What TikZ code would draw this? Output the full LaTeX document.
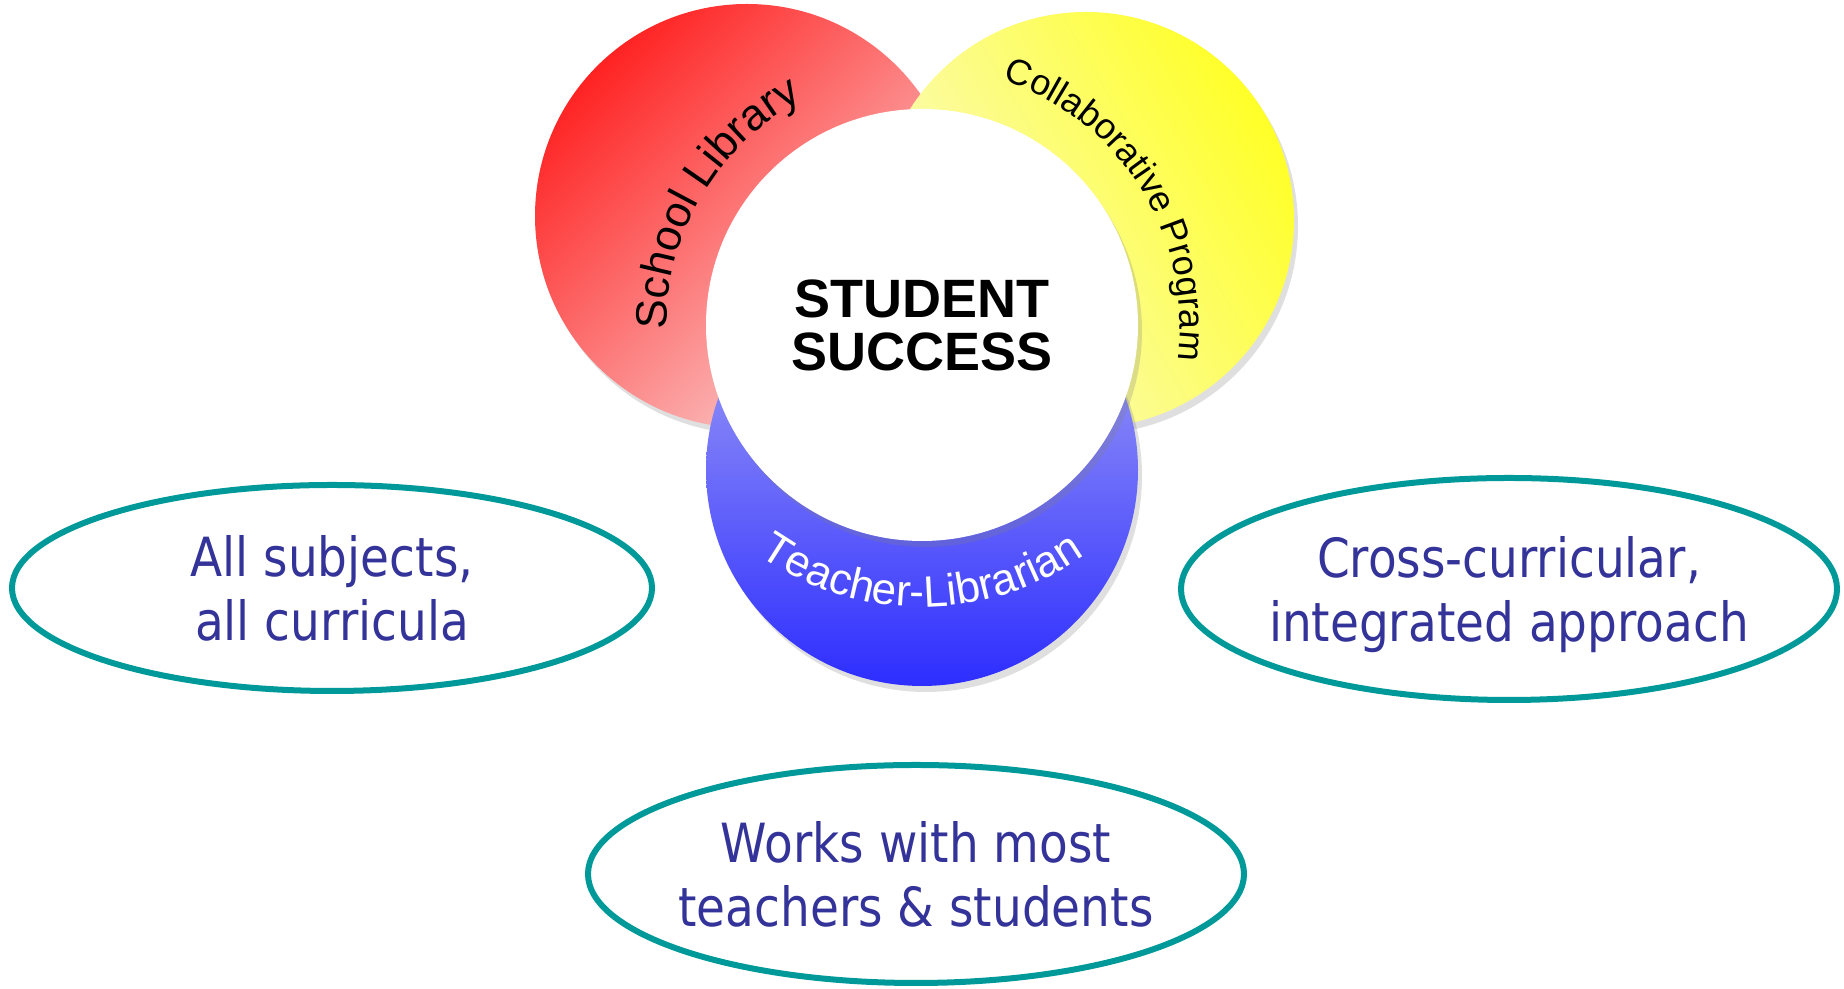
\documentclass[tikz,border=0pt]{standalone}
\usepackage{fontspec}
\setmainfont{Liberation Sans}
\newfontfamily\ovalfont[FakeStretch=0.87]{DejaVu Sans}
\usepackage{tikz}
\usetikzlibrary{shapes.geometric}
\usetikzlibrary{shadows}
\usetikzlibrary{decorations.text}
\definecolor{libred}{RGB}{255,35,35}
\definecolor{libpink}{RGB}{250,212,212}
\definecolor{progyellow}{RGB}{255,255,40}
\definecolor{progpale}{RGB}{250,250,205}
\definecolor{tlblue}{RGB}{45,45,255}
\definecolor{tllight}{RGB}{175,175,245}
\definecolor{ovalteal}{RGB}{0,153,153}
\definecolor{ovalink}{RGB}{51,51,153}
\newcommand{\arclabel}{\fontsize{22}{26}\selectfont}
\tikzstyle{petal}=[circle, inner sep=0, outer sep=0,
                   drop shadow={shadow xshift=2pt, shadow yshift=-3pt, opacity=0.25}]
\tikzstyle{hub}=[petal, fill=white, font=\bfseries\fontsize{27}{26.5}\selectfont, align=center]
\tikzstyle{oval}=[ellipse, draw=ovalteal, line width=3pt, inner xsep=-20pt, inner ysep=0,
                  align=center, text depth=-3pt,
                  text=ovalink, font=\ovalfont\fontsize{27}{32}\selectfont]
\tikzstyle{arctext}=[decorate, decoration={text along path, text align=center}]

\begin{document}
\begin{tikzpicture}[x=0.5pt, y=0.5pt]
        \useasboundingbox (0, 0) rectangle (1844, 989);
        % the three petals behind the hub
        \node[petal, minimum size=212pt, shade, top color=libred, bottom color=libpink, shading angle=45] (library) at (747, 773) {};
        \node[petal, minimum size=208pt, shade, top color=progyellow, bottom color=progpale, shading angle=-60] (program) at (1086, 769) {};
        \node[petal, minimum size=216pt, shade, top color=tllight, bottom color=tlblue] (librarian) at (922, 519) {};
        \node[hub, minimum size=216pt] (success) at (922, 664) {STUDENT\\SUCCESS};
        % curved labels
        \path[arctext, decoration={text={|\arclabel|School Library}}]
            ([shift={(201:255)}]success.center) arc[start angle=201, end angle=98, radius=255];
        \path[arctext, decoration={text={|\fontsize{18}{22}\selectfont|Collaborative Program}}]
            ([shift={(82:258)}]success.center) arc[start angle=82, end angle=-18, radius=258];
        \path[arctext, decoration={text={|\arclabel\color{white}|Teacher-Librarian}}]
            ([shift={(215:282)}]success.center) arc[start angle=215, end angle=325, radius=282];
        % ovals
        \node[oval, minimum width=320pt, minimum height=103pt] (subjects) at (332, 401) {All subjects,\\ all curricula};
        \node[oval, minimum width=328pt, minimum height=111pt] (approach) at (1509, 400) {Cross-curricular,\\integrated approach};
        \node[oval, minimum width=328pt, minimum height=109pt] (works) at (916, 115) {Works with most\\teachers \& students};
    \end{tikzpicture}
\end{document}
